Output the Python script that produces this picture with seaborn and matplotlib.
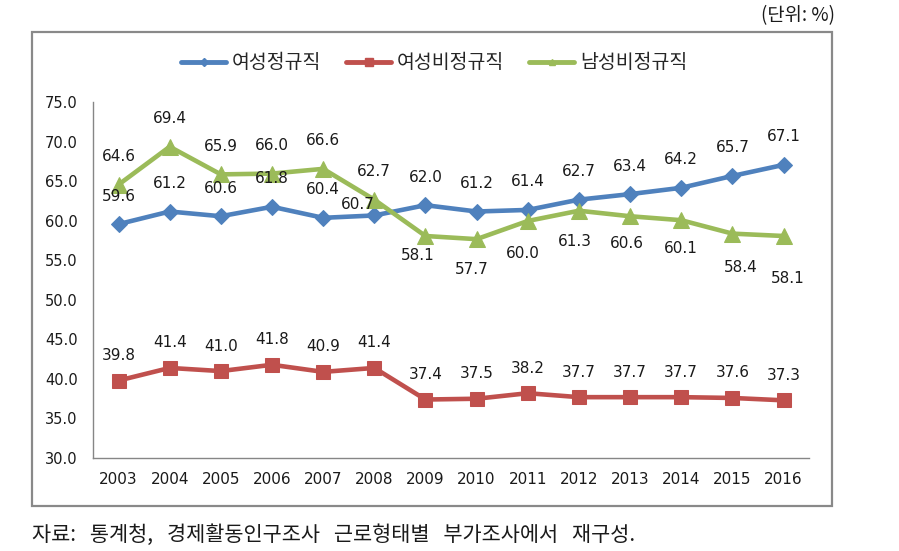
import numpy as np
import pandas as pd
import seaborn as sns
import matplotlib.pyplot as plt
from matplotlib.lines import Line2D
from matplotlib.patches import Rectangle

years = ['2003', '2004', '2005', '2006', '2007', '2008', '2009',
         '2010', '2011', '2012', '2013', '2014', '2015', '2016']

female_regular = [59.6, 61.2, 60.6, 61.8, 60.4, 60.7, 62.0,
                  61.2, 61.4, 62.7, 63.4, 64.2, 65.7, 67.1]
female_irregular = [39.8, 41.4, 41.0, 41.8, 40.9, 41.4, 37.4,
                    37.5, 38.2, 37.7, 37.7, 37.7, 37.6, 37.3]
male_irregular = [64.6, 69.4, 65.9, 66.0, 66.6, 62.7, 58.1,
                  57.7, 60.0, 61.3, 60.6, 60.1, 58.4, 58.1]

series_names = ['여성정규직', '여성비정규직', '남성비정규직']

# label offsets in pixels (dx, dy), layout only
blue_off = [(0, 28)] * 5 + [(-16, 11)] + [(0, 28)] * 8
red_off = [(0, 25)] * 14
green_off = [(0, 28)] * 6 + [(-8, -20), (-5, -30), (-5, -33), (-4, -31),
                             (-3, -27), (0, -28), (8, -34), (4, -43)]

sns.set_style('white')
plt.rcParams['font.family'] = ['DejaVu Sans', 'Noto Sans CJK KR']

fig = plt.figure(figsize=(8.99, 5.51), dpi=100)
ax = fig.add_axes([0.1034, 0.1688, 0.7966, 0.6452])

x = np.arange(len(years))
styles = [
    (female_regular, '#4F81BD', 'D', 8, blue_off),
    (female_irregular, '#C0504D', 's', 9.5, red_off),
    (male_irregular, '#9BBB59', '^', 11.5, green_off),
]

for vals, color, mk, ms, offs in styles:
    sns.lineplot(x=x, y=vals, color=color, marker=mk, markersize=ms,
                 markeredgecolor=color, linewidth=3.3, ax=ax, legend=False)
    for xi, v, (dx, dy) in zip(x, vals, offs):
        ax.annotate(f'{v:.1f}', (xi, v), xytext=(dx, dy),
                    textcoords='offset pixels', ha='center', va='center',
                    fontsize=11, color='#1a1a1a')

ax.set_xlim(-0.5, len(years) - 0.5)
ax.set_ylim(30, 75)
ax.set_yticks(np.arange(30, 76, 5))
ax.set_yticklabels([f'{t:.1f}' for t in np.arange(30, 76, 5)])
ax.set_xticks(x)
ax.set_xticklabels(years)
ax.set_xticks(np.arange(-0.5, len(years), 1), minor=True)
ax.tick_params(axis='x', which='major', length=0, pad=10, labelsize=11,
               colors='#1a1a1a')
ax.tick_params(axis='x', which='minor', length=5, width=1, color='#868686',
               direction='out')
ax.tick_params(axis='y', length=5, width=1, color='#868686', direction='out',
               pad=6, labelsize=10.5, labelcolor='#1a1a1a')
ax.set_xlabel('')
ax.set_ylabel('')
for side in ['top', 'right']:
    ax.spines[side].set_visible(False)
for side in ['left', 'bottom']:
    ax.spines[side].set_color('#868686')
    ax.spines[side].set_linewidth(1)

# legend with small markers
handles = [
    Line2D([], [], color='#4F81BD', lw=3.5, marker='D', markersize=4),
    Line2D([], [], color='#C0504D', lw=3.5, marker='s', markersize=6),
    Line2D([], [], color='#9BBB59', lw=3.5, marker='^', markersize=5),
]
fig.legend(handles, series_names, loc='center', bbox_to_anchor=(0.483, 0.886),
           ncol=3, frameon=False, handlelength=2.3, handletextpad=0.3,
           columnspacing=1.3, prop={'family': 'Noto Sans CJK KR', 'size': 14})

# outer frame
fig.patches.append(Rectangle((0.0356, 0.0817), 0.890, 0.860,
                             transform=fig.transFigure, fill=False,
                             edgecolor='#898989', linewidth=1.6))

fig.text(835 / 899, 1 - 16 / 551, '(단위: %)', ha='right', va='center',
         fontsize=13.5, family=['Noto Sans CJK KR', 'DejaVu Sans'], color='#1a1a1a')
fig.text(32 / 899, 1 - 535 / 551,
         '자료:   통계청,   경제활동인구조사   근로형태별   부가조사에서   재구성.',
         ha='left', va='center', fontsize=15,
         family=['Noto Sans CJK KR', 'DejaVu Sans'], color='#1a1a1a')

fig.savefig('out.png', dpi=100)
